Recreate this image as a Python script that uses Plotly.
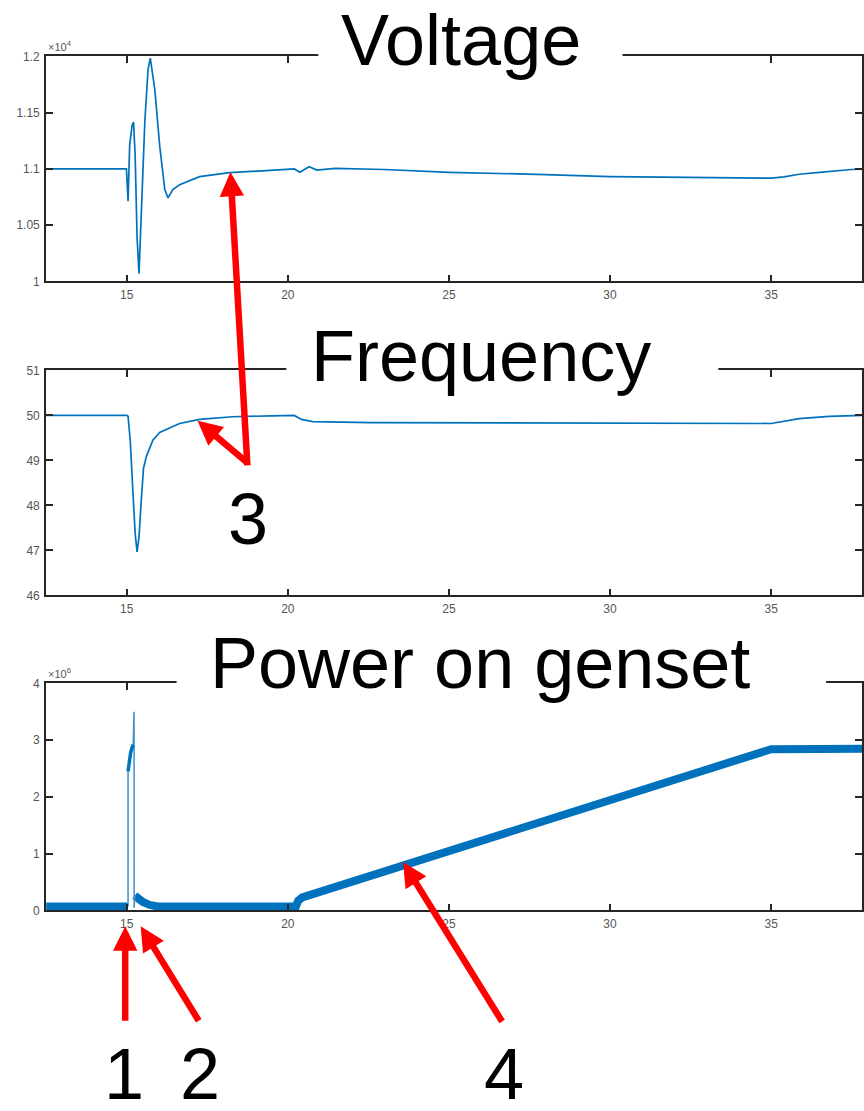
import plotly.graph_objects as go

W, H = 864, 1111

# ---------------- data ----------------
volt_t = [12.5, 14.99, 15.04, 15.09, 15.165, 15.21, 15.26, 15.32, 15.38, 15.45, 15.56, 15.66,
          15.73, 15.87, 16.02, 16.18, 16.28, 16.43, 16.64, 17.26, 18.19, 19.32, 20.0, 20.2,
          20.37, 20.5, 20.66, 20.9, 21.47, 23.0, 25.0, 28.0, 30.0, 32.42, 34.0, 35.0, 35.4,
          35.87, 36.5, 37.03, 37.5, 37.9]
volt_v = [11000, 11000, 10713, 11211, 11386, 11415, 11123, 10392, 10070, 10538, 11415, 11883,
          11985, 11708, 11211, 10816, 10743, 10816, 10860, 10932, 10967, 10985, 11000, 11000,
          10970, 10990, 11020, 10990, 11005, 10995, 10970, 10950, 10932, 10925, 10922, 10918, 10930,
          10953, 10970, 10985, 10995, 11000]

freq_t = [12.5, 15.0, 15.04, 15.11, 15.19, 15.26, 15.32, 15.38, 15.45, 15.52, 15.61, 15.81,
          16.02, 16.33, 16.64, 17.26, 18.28, 19.5, 20.2, 20.42, 20.77, 22.6, 28.0, 33.0, 35.0,
          35.87, 36.8, 37.9]
freq_f = [50.0, 50.0, 49.98, 49.42, 48.32, 47.38, 46.97, 47.30, 48.11, 48.83, 49.09, 49.45,
          49.62, 49.72, 49.82, 49.91, 49.97, 49.99, 50.0, 49.91, 49.86, 49.84, 49.83, 49.82, 49.82,
          49.93, 49.98, 50.0]

# main (thick) genset power trace; None marks the gap during the spike
pow_t = [12.5, 15.03, None, 15.25, 15.35, 15.5, 15.7, 15.95, 20.25, 20.32, 20.45, 35.0, 37.9]
pow_p = [0.07e6, 0.07e6, None, 0.26e6, 0.21e6, 0.15e6, 0.10e6, 0.07e6, 0.07e6, 0.17e6, 0.23e6,
         2.84e6, 2.85e6]
# thin spike at the fault
spike_t = [15.04, 15.04, 15.07, 15.12, 15.17, 15.2, 15.222, 15.226, 15.23, 15.25]
spike_p = [0.07e6, 2.45e6, 2.62e6, 2.78e6, 2.88e6, 2.92e6, 3.5e6, 3.5e6, 0.05e6, 0.26e6]
# medium-width rising part of the spike
rise_t = [15.04, 15.07, 15.12, 15.17, 15.2]
rise_p = [2.45e6, 2.62e6, 2.78e6, 2.88e6, 2.92e6]

x_ticks = [15, 20, 25, 30, 35]
x_tick_labels = ["15", "20", "25", "30", "35"]
volt_ticks = [10000, 10500, 11000, 11500, 12000]
volt_tick_labels = ["1", "1.05", "1.1", "1.15", "1.2"]
freq_ticks = [46, 47, 48, 49, 50, 51]
freq_tick_labels = ["46", "47", "48", "49", "50", "51"]
pow_ticks = [0, 1e6, 2e6, 3e6, 4e6]
pow_tick_labels = ["0", "1", "2", "3", "4"]

titles = ["Voltage", "Frequency", "Power on genset"]
exponents = ["×10<sup>4</sup>", "", "×10<sup>6</sup>"]
numbers = ["1", "2", "3", "4"]

# ---------------- layout helpers ----------------
def PX(p):
    return p / W

def PY(p):
    return 1 - p / H

BLUE = "#0072BD"
AX = "#262626"
TICKFONT = dict(family="Liberation Sans, Arial, sans-serif", size=12, color="#555555")
BIG = dict(family="Liberation Sans, Arial, sans-serif", size=72, color="black")

x_range = [12.49, 37.82]
panels = [  # top px, bottom px
    (50, 278),
    (368, 596),
    (685, 915),
]

fig = go.Figure()
fig.add_trace(go.Scatter(x=volt_t, y=volt_v, mode="lines", line=dict(color=BLUE, width=1.7),
                         xaxis="x", yaxis="y", showlegend=False))
fig.add_trace(go.Scatter(x=freq_t, y=freq_f, mode="lines", line=dict(color=BLUE, width=1.7),
                         xaxis="x2", yaxis="y2", showlegend=False))
fig.add_trace(go.Scatter(x=pow_t, y=pow_p, mode="lines", line=dict(color=BLUE, width=8),
                         xaxis="x3", yaxis="y3", showlegend=False, connectgaps=False))
fig.add_trace(go.Scatter(x=spike_t, y=spike_p, mode="lines", line=dict(color="#3d8fcc", width=1.5),
                         xaxis="x3", yaxis="y3", showlegend=False))
fig.add_trace(go.Scatter(x=rise_t, y=rise_p, mode="lines", line=dict(color=BLUE, width=3.5),
                         xaxis="x3", yaxis="y3", showlegend=False))

common_x = dict(range=x_range, tickvals=x_ticks, ticktext=x_tick_labels, ticks="inside",
                ticklen=7, tickwidth=1.5, tickcolor=AX, showline=True, linewidth=1.5,
                linecolor=AX, mirror="ticks", showgrid=False, zeroline=False,
                tickfont=TICKFONT, domain=[PX(46), 1.0], layer="above traces",
                ticklabelstandoff=1)
common_y = dict(ticks="inside", ticklen=7, tickwidth=1.5, tickcolor=AX, showline=True,
                linewidth=1.5, linecolor=AX, mirror="ticks", showgrid=False, zeroline=False,
                tickfont=TICKFONT, layer="above traces", ticklabelstandoff=2)

yspecs = [
    ([10000, 12000], volt_ticks, volt_tick_labels),
    ([46, 51], freq_ticks, freq_tick_labels),
    ([0, 4e6], pow_ticks, pow_tick_labels),
]
for i, ((top, bot), (rng, tv, tt)) in enumerate(zip(panels, yspecs)):
    sfx = "" if i == 0 else str(i + 1)
    fig.layout["xaxis" + sfx] = dict(common_x, anchor="y" + sfx)
    fig.layout["yaxis" + sfx] = dict(common_y, anchor="x" + sfx, range=rng, tickvals=tv,
                                     ticktext=tt, domain=[PY(bot), PY(top)])

# title gaps in the top box line + title texts
gaps = [(319, 624, 462.5, 60), (287, 720, 482, 380), (177, 828, 481, 691)]
shapes = []
annotations = []
for (g0, g1, cx, base), (top, bot), t, e in zip(gaps, panels, titles, exponents):
    shapes.append(dict(type="rect", xref="paper", yref="paper", x0=PX(g0), x1=PX(g1),
                       y0=PY(top + 10), y1=PY(top - 6), fillcolor="white",
                       line=dict(width=0), layer="above"))
    annotations.append(dict(text=t, xref="paper", yref="paper", x=PX(cx), y=PY(base + 16),
                            xanchor="center", yanchor="bottom", showarrow=False, font=BIG))
    if e:
        annotations.append(dict(text=e, xref="paper", yref="paper", x=PX(46), y=PY(top - 1),
                                xanchor="left", yanchor="bottom", showarrow=False,
                                font=dict(TICKFONT, size=11)))

# red arrows: head (px), tail (px)
arrows = [
    ((231, 167), (248, 462)),
    ((198, 419), (249, 462)),
    ((125.5, 931), (125.5, 1027)),
    ((141, 931), (200, 1027)),
    ((404, 866), (504, 1027)),
]
for (hx, hy), (tx, ty) in arrows:
    annotations.append(dict(text="", xref="paper", yref="paper", x=PX(hx), y=PY(hy),
                            ax=tx - hx, ay=ty - hy, axref="pixel", ayref="pixel",
                            showarrow=True, arrowhead=2, arrowsize=0.75, arrowwidth=6.5,
                            arrowcolor="#FF0000", standoff=0, startstandoff=0))

# numbers: center x, baseline y
num_pos = [(124, 1107), (200, 1107), (248.5, 545), (505, 1107)]
for n, (cx, base) in zip(numbers, num_pos):
    annotations.append(dict(text=n, xref="paper", yref="paper", x=PX(cx), y=PY(base + 16),
                            xanchor="center", yanchor="bottom", showarrow=False, font=BIG))

fig.update_layout(width=W, height=H, margin=dict(l=0, r=0, t=0, b=0, pad=0),
                  paper_bgcolor="white", plot_bgcolor="white",
                  shapes=shapes, annotations=annotations, showlegend=False)

fig.write_html("out.html")
